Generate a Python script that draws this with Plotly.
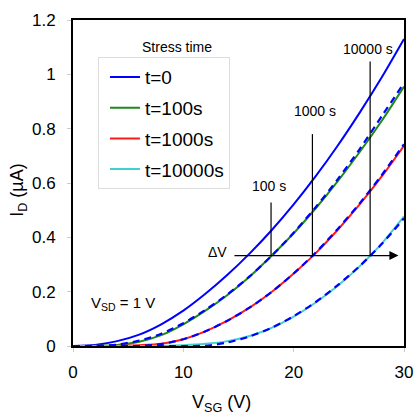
import plotly.graph_objects as go

# Gate voltage samples (V)
v_sg = [0, 2, 4, 6, 8, 10, 12, 14, 16, 18, 20, 22, 24, 26, 28, 30]

i_t0 = [0, 0.004, 0.018, 0.042, 0.080, 0.130, 0.192, 0.262, 0.340, 0.426, 0.521, 0.625, 0.738, 0.860, 0.990, 1.130]
i_t100 = [0, 0.001, 0.004, 0.016, 0.040, 0.080, 0.130, 0.188, 0.255, 0.332, 0.415, 0.507, 0.607, 0.715, 0.830, 0.955]
i_t1000 = [0, 0, 0.001, 0.003, 0.008, 0.025, 0.054, 0.093, 0.141, 0.199, 0.267, 0.342, 0.428, 0.522, 0.625, 0.737]
i_t10000 = [0, 0, 0, 0, 0.001, 0.003, 0.008, 0.018, 0.037, 0.067, 0.108, 0.160, 0.222, 0.294, 0.378, 0.477]

# Shifted t=0 curves (blue dashed overlays)
fit_t100 = [0, 0, 0.005, 0.020, 0.045, 0.084, 0.133, 0.190, 0.256, 0.332, 0.417, 0.511, 0.614, 0.726, 0.847, 0.968]
fit_t1000 = [0, 0, 0, 0, 0.007, 0.025, 0.054, 0.093, 0.141, 0.199, 0.267, 0.344, 0.431, 0.526, 0.630, 0.743]
fit_t10000 = [0, 0, 0, 0, 0, 0, 0.001, 0.013, 0.035, 0.067, 0.110, 0.162, 0.224, 0.295, 0.376, 0.470]

series_names = ["t=0", "t=100s", "t=1000s", "t=10000s"]
series_colors = ["#0000ff", "#1a8a1a", "#ff1a1a", "#40d0d0"]

# Delta-V marker lines
marker_x = [17.95, 21.7, 26.93]
marker_top = [0.528, 0.780, 1.047]
marker_labels = ["100 s", "1000 s", "10000 s"]
marker_label_x = [17.8, 21.9, 26.7]
marker_label_y = [0.589, 0.866, 1.093]
delta_level = 0.333
arrow_start = 14.5
arrow_end = 29.5

font_family = "Arial, Liberation Sans, sans-serif"

fig = go.Figure()
for name, color, ys in zip(series_names, series_colors, [i_t0, i_t100, i_t1000, i_t10000]):
    fig.add_trace(go.Scatter(x=v_sg, y=ys, mode="lines", name=name, legendgroup=name,
                             line=dict(color=color, width=2, shape="spline", smoothing=0.8)))
for ys in [fit_t100, fit_t1000, fit_t10000]:
    fig.add_trace(go.Scatter(x=v_sg, y=ys, mode="lines", showlegend=False,
                             line=dict(color="#0000ff", width=2.2, dash="7px,5px",
                                       shape="spline", smoothing=0.8)))

shapes = []
for mx, mt in zip(marker_x, marker_top):
    shapes.append(dict(type="line", xref="x", yref="y", x0=mx, x1=mx, y0=delta_level, y1=mt,
                       line=dict(color="black", width=1.2)))
fig.update_layout(shapes=shapes)

annotations = []
for lbl, lx, ly in zip(marker_labels, marker_label_x, marker_label_y):
    annotations.append(dict(x=lx, y=ly, xref="x", yref="y", text=lbl, showarrow=False,
                            font=dict(size=14, color="black", family=font_family)))
annotations.append(dict(x=arrow_end, y=delta_level, ax=arrow_start, ay=delta_level,
                        xref="x", yref="y", axref="x", ayref="y", text="", showarrow=True,
                        arrowhead=2, arrowsize=1.4, arrowwidth=1.3, arrowcolor="black"))
annotations.append(dict(x=13.1, y=0.345, xref="x", yref="y", text="ΔV", showarrow=False,
                        font=dict(size=14, color="black", family=font_family)))
annotations.append(dict(x=4.5, y=0.155, xref="x", yref="y", text="V<sub>SD</sub> = 1 V",
                        showarrow=False, font=dict(size=15, color="black", family=font_family)))
annotations.append(dict(x=9.4, y=1.1, xref="x", yref="y", text="Stress time", showarrow=False,
                        font=dict(size=14, color="black", family=font_family)))
annotations.append(dict(x=13.5, y=0, xref="x", yref="paper", yshift=-57, text="V<sub>SG</sub> (V)",
                        showarrow=False, yanchor="middle",
                        font=dict(size=18, color="black", family=font_family)))
annotations.append(dict(x=0, y=0.575, xref="paper", yref="y", xshift=-54, text="I<sub>D</sub> (µA)",
                        showarrow=False, textangle=-90, xanchor="center",
                        font=dict(size=18, color="black", family=font_family)))

fig.update_layout(
    annotations=annotations,
    width=414, height=414,
    margin=dict(l=73, r=10, t=20, b=68),
    paper_bgcolor="white", plot_bgcolor="white",
    font=dict(family=font_family, color="black"),
    showlegend=True,
    legend=dict(x=0.0755, y=0.886, xanchor="left", yanchor="top",
                bgcolor="white", bordercolor="#dddddd", borderwidth=1,
                font=dict(size=19, color="black", family=font_family),
                traceorder="grouped", tracegroupgap=3, indentation=6),
    xaxis=dict(range=[0, 30], dtick=10, showgrid=False, zeroline=False, automargin=False,
               showline=True, linecolor="black", linewidth=2, mirror=True,
               ticks="outside", ticklen=4, tickcolor="#cccccc",
               tickfont=dict(size=17), ticklabelstandoff=6),
    yaxis=dict(range=[0, 1.2], dtick=0.2, showgrid=False, zeroline=False, automargin=False,
               showline=True, linecolor="black", linewidth=2, mirror=True,
               ticks="outside", ticklen=4, tickcolor="#cccccc",
               tickfont=dict(size=17), ticklabelstandoff=8),
)

fig.write_html("out.html")
